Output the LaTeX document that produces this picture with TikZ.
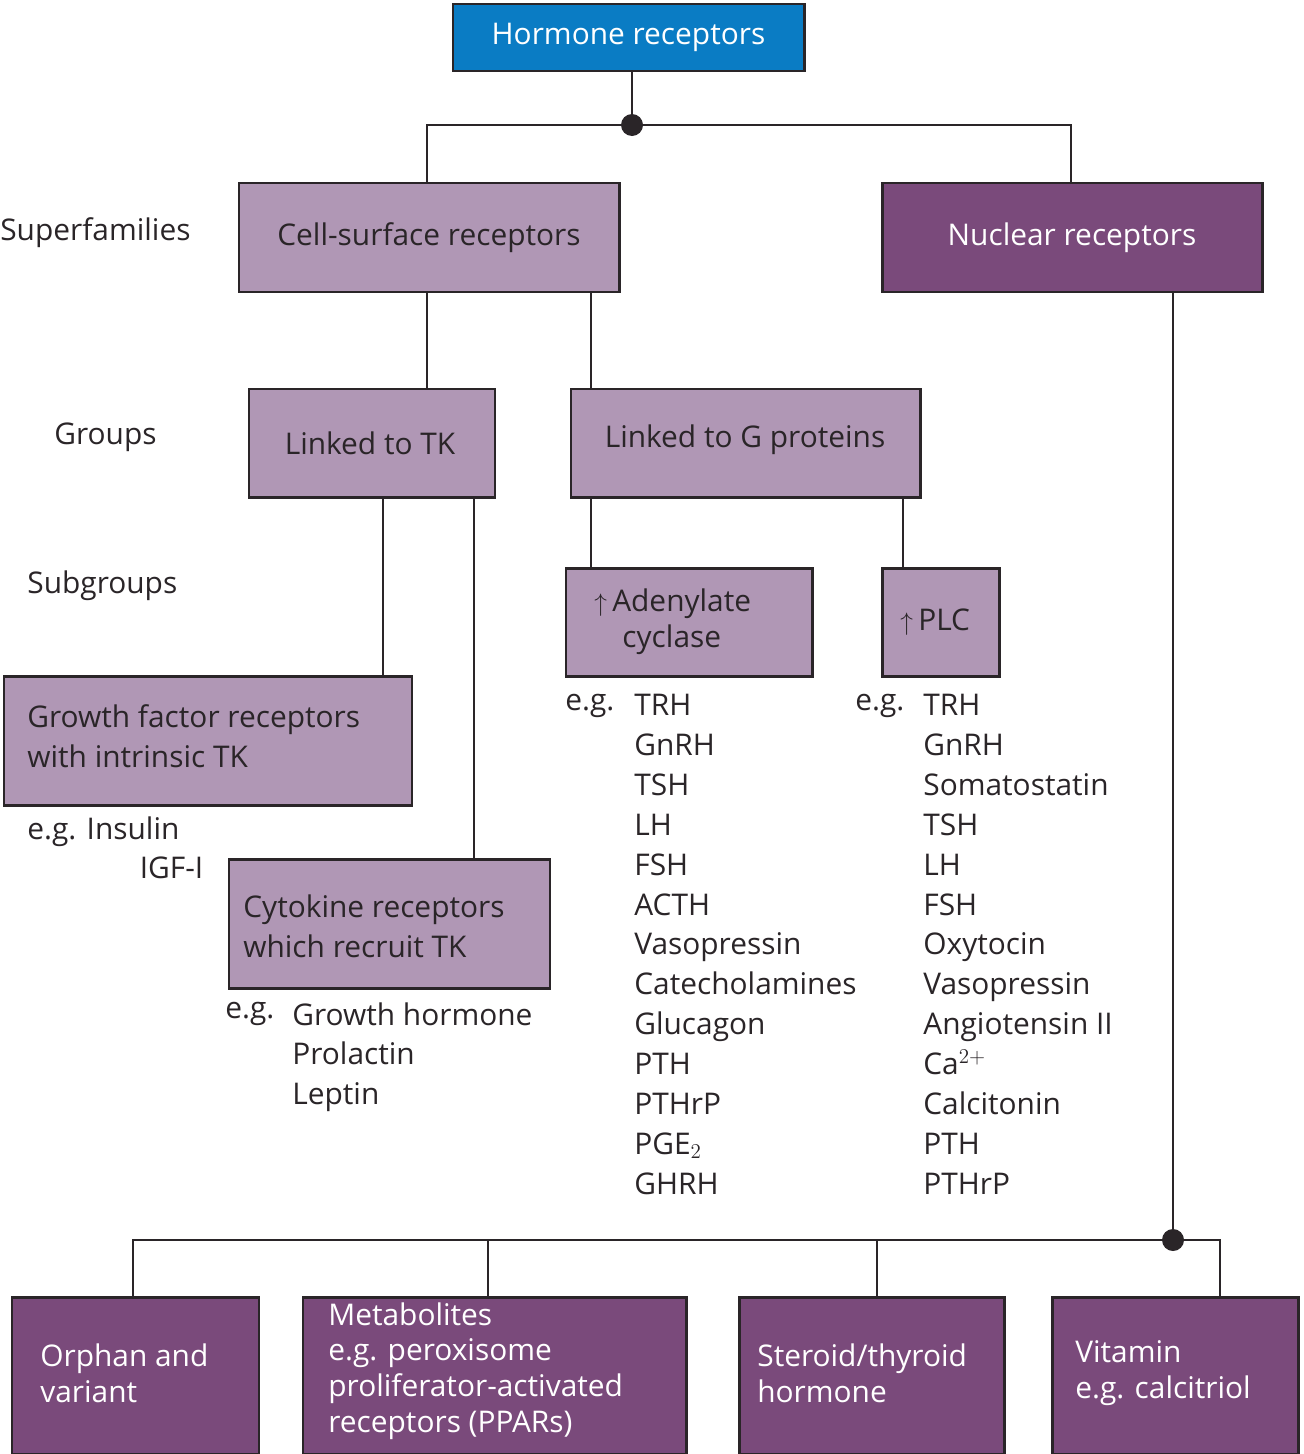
\documentclass[tikz,border=0pt]{standalone}
\usepackage{fontspec}
\setmainfont{Open Sans}
\usetikzlibrary{fit,arrows.meta}
\definecolor{lp}{HTML}{B097B5}
\definecolor{dp}{HTML}{7A4A7B}
\definecolor{hb}{HTML}{0A7CC4}
\definecolor{bd}{HTML}{2A2528}
\begin{document}
\begin{tikzpicture}[x=0.02cm,y=-0.02cm,
  box/.style={draw=bd,line width=1.7pt,inner sep=0pt},
  lbox/.style={box,fill=lp},
  dbox/.style={box,fill=dp},
  t/.style={font=\fontsize{17}{22.7}\selectfont,text=bd,align=left,inner sep=0pt},
  wt/.style={t,text=white},
  bt/.style={font=\fontsize{17}{20.4}\selectfont,text=white,align=left,inner sep=0pt},
  ln/.style={line width=1.1pt,draw=bd},
  up/.style={font=\fontsize{11}{11}\selectfont}]
\useasboundingbox (0,0) rectangle (1304,1454);
% boxes
\node[box,fill=hb,fit={(453,4)(804,71)}] (hr) {};
\node[wt] at (hr) {Hormone receptors};
\node[lbox,fit={(239,183)(619,292)}] (cs) {};
\node[t] at (cs) {Cell-surface receptors};
\node[dbox,fit={(882,183)(1262,292)}] (nr) {};
\node[wt] at (nr) {Nuclear receptors};
\node[lbox,fit={(249,389)(495,497)}] (tk) {};
\node[t] at (370,443) {Linked to TK};
\node[lbox,fit={(571,389)(920,497)}] (gp) {};
\node[t] at (745,440) {Linked to G proteins};
\node[lbox,fit={(566,568)(812,676)}] (ac) {};
\node[t,anchor=west] at (594,622) {{\fontsize{14}{14}\selectfont$\uparrow$}\hspace{3pt}Adenylate\\[-2pt]\hspace{16pt}cyclase};
\node[lbox,fit={(882,568)(999,676)}] (plc) {};
\node[t,anchor=west] at (900,622) {{\fontsize{14}{14}\selectfont$\uparrow$}\hspace{3pt}PLC};
\node[lbox,fit={(4,676)(412,805)}] (gf) {};
\node[t,anchor=west] at (27,736) {Growth factor receptors\\with intrinsic TK};
\node[lbox,fit={(229,859)(550,988)}] (ck) {};
\node[t,anchor=west] at (243,926) {Cytokine receptors\\which recruit TK};
\node[dbox,fit={(12,1297)(259,1454)}] (or) {};
\node[bt,anchor=west] at (40,1373) {Orphan and\\variant};
\node[dbox,fit={(303,1297)(686,1454)}] (me) {};
\node[bt,anchor=north west] at (328,1302) {Metabolites\\e.g. peroxisome\\proliferator-activated\\receptors (PPARs)};
\node[dbox,fit={(739,1297)(1004,1454)}] (st) {};
\node[bt,anchor=west] at (757,1373) {Steroid/thyroid\\hormone};
\node[dbox,fit={(1052,1297)(1298,1454)}] (vi) {};
\node[bt,anchor=west] at (1075,1373) {Vitamin\\e.g. calcitriol};
% side labels
\node[t,anchor=west] (l1) at (0,233) {Superfamilies};
\node[t,anchor=west] (l2) at (54,437) {Groups};
\node[t,anchor=west] (l3) at (27,586) {Subgroups};
% lists
\node[t,anchor=north west] (e1) at (565,694) {e.g.};
\node[t,anchor=north west] (e1l) at (634,694) {TRH\\GnRH\\TSH\\LH\\FSH\\ACTH\\Vasopressin\\Catecholamines\\Glucagon\\PTH\\PTHrP\\PGE$_2$\\GHRH};
\node[t,anchor=north west] (e2) at (855,694) {e.g.};
\node[t,anchor=north west] (e2l) at (923,694) {TRH\\GnRH\\Somatostatin\\TSH\\LH\\FSH\\Oxytocin\\Vasopressin\\Angiotensin II\\Ca$^{2+}$\\Calcitonin\\PTH\\PTHrP};
\node[t,anchor=north west] (e3) at (27,816) {e.g. Insulin\\\hspace{64pt}IGF-I};
\node[t,anchor=north west] (e4) at (225,1002) {e.g.};
\node[t,anchor=north west] (e4l) at (292,1002) {Growth hormone\\Prolactin\\Leptin};
% connectors
\coordinate (d1) at (632,125);
\coordinate (d2) at (1173,1240);
\coordinate (x427) at (427,0); \coordinate (x1071) at (1071,0);
\coordinate (x591) at (591,0); \coordinate (x383) at (383,0);
\coordinate (x474) at (474,0); \coordinate (x903) at (903,0);
\coordinate (x133) at (133,0); \coordinate (x488) at (488,0);
\coordinate (x877) at (877,0); \coordinate (x1220) at (1220,0);
\draw[ln] (hr.south -| d1) -- (d1);
\draw[ln] (cs.north -| x427) |- (d1) -| (nr.north -| x1071);
\draw[ln] (cs.south -| x427) -- (tk.north -| x427);
\draw[ln] (cs.south -| x591) -- (gp.north -| x591);
\draw[ln] (tk.south -| x383) -- (gf.north -| x383);
\draw[ln] (tk.south -| x474) -- (ck.north -| x474);
\draw[ln] (gp.south -| x591) -- (ac.north -| x591);
\draw[ln] (gp.south -| x903) -- (plc.north -| x903);
\draw[ln] (nr.south -| d2) -- (d2);
\draw[ln] (or.north -| x133) |- (d2) -| (vi.north -| x1220);
\draw[ln] (me.north -| x488) -- (d2 -| x488);
\draw[ln] (st.north -| x877) -- (d2 -| x877);
\fill[bd] (d1) circle[radius=11];
\fill[bd] (d2) circle[radius=11];
\end{tikzpicture}
\end{document}
